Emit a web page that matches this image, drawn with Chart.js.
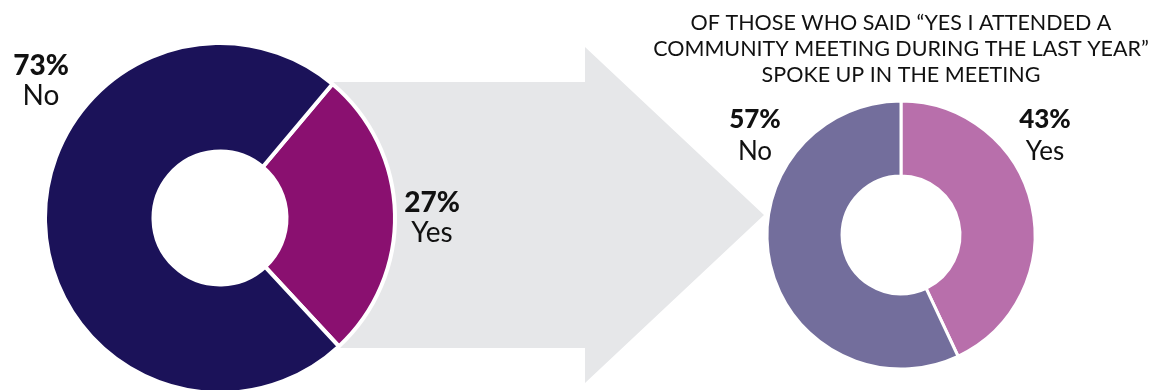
<!DOCTYPE html>
<html>
<head>
<meta charset="utf-8">
<script src="https://cdn.jsdelivr.net/npm/chart.js@4.4.1/dist/chart.umd.min.js"></script>
<style>
  html, body { margin: 0; padding: 0; background: #fff; overflow: hidden; }
  #wrap { position: relative; width: 1157px; height: 390px; }
  canvas { position: absolute; left: 0; top: 0; }
</style>
</head>
<body>
<div id="wrap">
  <canvas id="attendChart" width="1157" height="390"></canvas>
  <canvas id="spokeChart" width="1157" height="390"></canvas>
</div>
<script>
// Data
const categories = ["Yes", "No"];
const attendedValues = [27, 73];   // attended a community meeting last year
const spokeUpValues = [43, 57];    // of those who attended, spoke up
const titleLines = [
  "OF THOSE WHO SAID \u201CYES I ATTENDED A",
  "COMMUNITY MEETING DURING THE LAST YEAR\u201D",
  "SPOKE UP IN THE MEETING"
];

const attendedColors = ["#8a1070", "#1b1259"];
const spokeUpColors = ["#b86fab", "#736e9c"];
const FONT = "Lato, 'Open Sans', sans-serif";

// label offsets from the doughnut centre: [dx, baseline dy of the % line]
const attendedLabelPos = [[212, -6], [-179, -143]];
const spokeUpLabelPos = [[144, -107], [-146, -107]];

// grey arrow pointing from the first doughnut to the second
const arrowShape = { x0: 330, top: 82, bottom: 348, headX: 585, headTop: 47, headBottom: 383, tipX: 764 };

const arrowPlugin = {
  id: "arrow",
  beforeDatasetsDraw(chart) {
    const c = chart.ctx, a = arrowShape, mid = (a.top + a.bottom) / 2;
    c.save();
    c.fillStyle = "#e6e7e9";
    c.beginPath();
    c.moveTo(a.x0, a.top);
    c.lineTo(a.headX, a.top);
    c.lineTo(a.headX, a.headTop);
    c.lineTo(a.tipX, mid);
    c.lineTo(a.headX, a.headBottom);
    c.lineTo(a.headX, a.bottom);
    c.lineTo(a.x0, a.bottom);
    c.closePath();
    c.fill();
    c.restore();
  }
};

// value + category labels beside each slice
const sliceLabels = {
  id: "sliceLabels",
  afterDatasetsDraw(chart, args, opts) {
    const c = chart.ctx;
    const arc = chart.getDatasetMeta(0).data[0];
    const values = chart.data.datasets[0].data;
    c.save();
    c.fillStyle = "#111";
    c.textAlign = "center";
    c.textBaseline = "alphabetic";
    values.forEach((v, i) => {
      const [dx, dy] = opts.pos[i];
      c.font = "900 " + opts.size + "px " + FONT;
      c.fillText(v + "%", arc.x + dx, arc.y + dy);
      c.font = "400 " + opts.size + "px " + FONT;
      c.fillText(chart.data.labels[i], arc.x + dx, arc.y + dy + opts.gap);
    });
    c.restore();
  }
};

const titleText = {
  id: "titleText",
  afterDraw(chart) {
    const c = chart.ctx;
    const arc = chart.getDatasetMeta(0).data[0];
    c.save();
    c.fillStyle = "#111";
    c.textAlign = "center";
    c.font = "400 21.5px " + FONT;
    titleLines.forEach((line, i) => c.fillText(line, arc.x, 30 + i * 26));
    c.restore();
  }
};

function baseOptions(padding, rotation, cutout, radius, labelOpts) {
  return {
    responsive: false,
    animation: false,
    rotation: rotation,
    cutout: cutout,
    radius: radius,
    layout: { padding: padding },
    plugins: {
      legend: { display: false },
      tooltip: { enabled: false },
      sliceLabels: labelOpts
    },
    events: []
  };
}

new Chart(document.getElementById("attendChart"), {
  type: "doughnut",
  data: {
    labels: categories,
    datasets: [{
      data: attendedValues,
      backgroundColor: attendedColors,
      borderColor: "#fff",
      borderWidth: 4,
      hoverOffset: 0
    }]
  },
  options: baseOptions({ left: 0, right: 717, top: 46, bottom: 0 }, 40, "38%", 175,
    { pos: attendedLabelPos, size: 28, gap: 30 }),
  plugins: [arrowPlugin, sliceLabels]
});

new Chart(document.getElementById("spokeChart"), {
  type: "doughnut",
  data: {
    labels: categories,
    datasets: [{
      data: spokeUpValues,
      backgroundColor: spokeUpColors,
      borderColor: "#fff",
      borderWidth: 3,
      hoverOffset: 0
    }]
  },
  options: baseOptions({ left: 645, right: 0, top: 80, bottom: 0 }, 0, "44%", 134,
    { pos: spokeUpLabelPos, size: 26, gap: 32 }),
  plugins: [sliceLabels, titleText]
});
</script>
</body>
</html>
